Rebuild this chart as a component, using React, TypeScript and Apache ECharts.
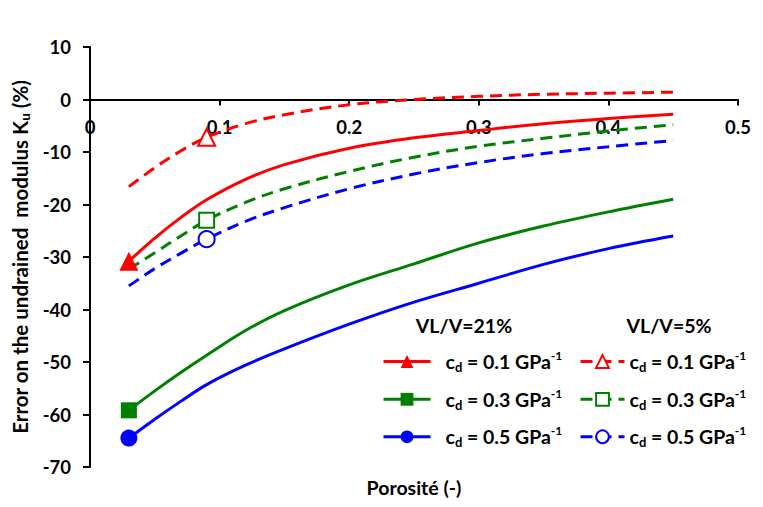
import React, { useEffect, useRef } from "react";
import * as echarts from "echarts";

const porosity = [0.03, 0.05, 0.07, 0.09, 0.12, 0.15, 0.2, 0.25, 0.3, 0.35, 0.4, 0.45];
const red21 = [-30.8, -26.4, -22.5, -19.1, -15.2, -12.4, -9.3, -7.3, -5.9, -4.6, -3.6, -2.8];
const green21 = [-59.2, -55.5, -52.0, -48.7, -44.0, -40.2, -35.3, -31.3, -27.3, -24.1, -21.4, -19.0];
const blue21 = [-64.5, -60.9, -57.5, -54.3, -50.6, -47.5, -42.8, -38.6, -35.0, -31.4, -28.4, -26.0];
const red5 = [-16.6, -13.0, -9.8, -7.2, -4.6, -2.9, -1.0, 0.0, 0.6, 1.0, 1.2, 1.4];
const green5 = [-32.3, -29.2, -26.0, -23.0, -19.6, -17.0, -13.7, -11.0, -8.9, -7.4, -6.0, -4.8];
const blue5 = [-35.5, -32.2, -29.3, -26.6, -23.2, -20.6, -17.0, -14.2, -12.0, -10.3, -9.0, -7.8];

const cdValues = ["0.1", "0.3", "0.5"];
const groupTitles = ["VL/V=21%", "VL/V=5%"];

const FONT = "Lato";

export default function App() {
  const ref = useRef<HTMLDivElement>(null);
  useEffect(() => {
    if (!ref.current) return;
    const chart = echarts.init(ref.current, null, { renderer: "svg" });

    const colors = ["#FF0000", "#008000", "#0000FF"];
    const symbols = ["triangle", "rect", "circle"];
    const solidSizes = [19, 16, 17];
    const openSizes = [17, 15, 16];
    const solidData = [red21, green21, blue21];
    const openData = [red5, green5, blue5];

    const mk = (vals: number[], markIdx: number, size: number) =>
      vals.map((v, i) => ({ value: [porosity[i], v], symbolSize: i === markIdx ? size : 0 }));

    const series: any[] = [];
    for (let k = 0; k < 3; k++) {
      series.push({
        name: "s" + k,
        type: "line",
        smooth: 0.35,
        symbol: symbols[k],
        symbolSize: 0,
        showAllSymbol: true,
        data: mk(solidData[k], 0, solidSizes[k]),
        lineStyle: { color: colors[k], width: 3 },
        itemStyle: { color: colors[k] },
        z: 3,
      });
    }
    for (let k = 0; k < 3; k++) {
      series.push({
        name: "d" + k,
        type: "line",
        smooth: 0.35,
        symbol: symbols[k],
        symbolSize: 0,
        showAllSymbol: true,
        data: mk(openData[k], 3, openSizes[k]),
        lineStyle: { color: colors[k], width: 3, type: [12, 7] },
        itemStyle: { color: "#FFFFFF", borderColor: colors[k], borderWidth: 2 },
        z: 2,
      });
    }

    const rich = {
      a: { fontFamily: FONT, fontWeight: "bold", fontSize: 19.5, lineHeight: 24, color: "#000" },
      sub: { fontFamily: FONT, fontWeight: "bold", fontSize: 13, lineHeight: 13, verticalAlign: "bottom", color: "#000" },
      sup: { fontFamily: FONT, fontWeight: "bold", fontSize: 12, lineHeight: 12, verticalAlign: "top", color: "#000" },
    };
    const fmt = (name: string) => {
      const k = Number(name.slice(1));
      return `{a|c}{sub|d}{a| = ${cdValues[k]} GPa}{sup|-1}`;
    };

    const rowCenters = [361.5, 399.3, 436.8];
    const legends: any[] = [];
    for (let k = 0; k < 3; k++) {
      legends.push({
        orient: "vertical",
        left: 382,
        top: rowCenters[k] - 12,
        padding: 0,
        itemWidth: 47,
        itemHeight: 16,
        selectedMode: false,
        data: ["s" + k],
        formatter: fmt,
        lineStyle: { width: 3 },
        textStyle: { rich, padding: [0, 0, 0, 10] },
      });
      legends.push({
        orient: "vertical",
        left: 579,
        top: rowCenters[k] - 12,
        padding: 0,
        itemWidth: 44,
        itemHeight: 16,
        selectedMode: false,
        data: ["d" + k],
        formatter: fmt,
        lineStyle: { width: 3 },
        textStyle: { rich },
      });
    }

    const txt = (x: number, y: number, text: string) => ({
      type: "text",
      x,
      y,
      style: {
        text,
        fontFamily: FONT,
        fontWeight: "bold",
        fontSize: 19.5,
        fill: "#000",
        align: "center",
        verticalAlign: "middle",
      },
    });

    chart.setOption({
      animation: false,
      backgroundColor: "#FFFFFF",
      grid: { left: 90, top: 47, width: 648, height: 420, containLabel: false },
      xAxis: {
        type: "value",
        position: "bottom",
        offset: -367.5,
        min: 0,
        max: 0.5,
        interval: 0.1,
        axisLine: { onZero: false, lineStyle: { color: "#000", width: 2 } },
        axisTick: { show: true, length: 6, lineStyle: { color: "#000", width: 2 } },
        splitLine: { show: false },
        axisLabel: {
          margin: 18,
          color: "#000",
          fontFamily: FONT,
          fontWeight: "bold",
          fontSize: 18.5,
        },
      },
      yAxis: {
        type: "value",
        min: -70,
        max: 10,
        interval: 10,
        axisLine: { show: true, onZero: false, lineStyle: { color: "#000", width: 2 } },
        axisTick: { show: true, length: 7, lineStyle: { color: "#000", width: 2 } },
        splitLine: { show: false },
        axisLabel: { margin: 19, color: "#000", fontFamily: FONT, fontWeight: "bold", fontSize: 18.5 },
        name: "{a|Error on the undrained  modulus K}{sub|u}{a| (%)}",
        nameLocation: "middle",
        nameRotate: 90,
        nameGap: 51,
        nameTextStyle: {
          rich: {
            a: { fontFamily: FONT, fontWeight: "bold", fontSize: 20.5, lineHeight: 23, color: "#000" },
            sub: { fontFamily: FONT, fontWeight: "bold", fontSize: 13.5, lineHeight: 13, verticalAlign: "bottom", color: "#000" },
          },
        },
      },
      legend: legends,
      graphic: [txt(414, 487, "Porosité (-)"), txt(464, 325, groupTitles[0]), txt(669, 325, groupTitles[1])],
      series,
    });
    return () => chart.dispose();
  }, []);
  return (
    <div
      ref={ref}
      style={{ position: "fixed", left: 0, top: 0, width: 763, height: 507, background: "#fff" }}
    />
  );
}
